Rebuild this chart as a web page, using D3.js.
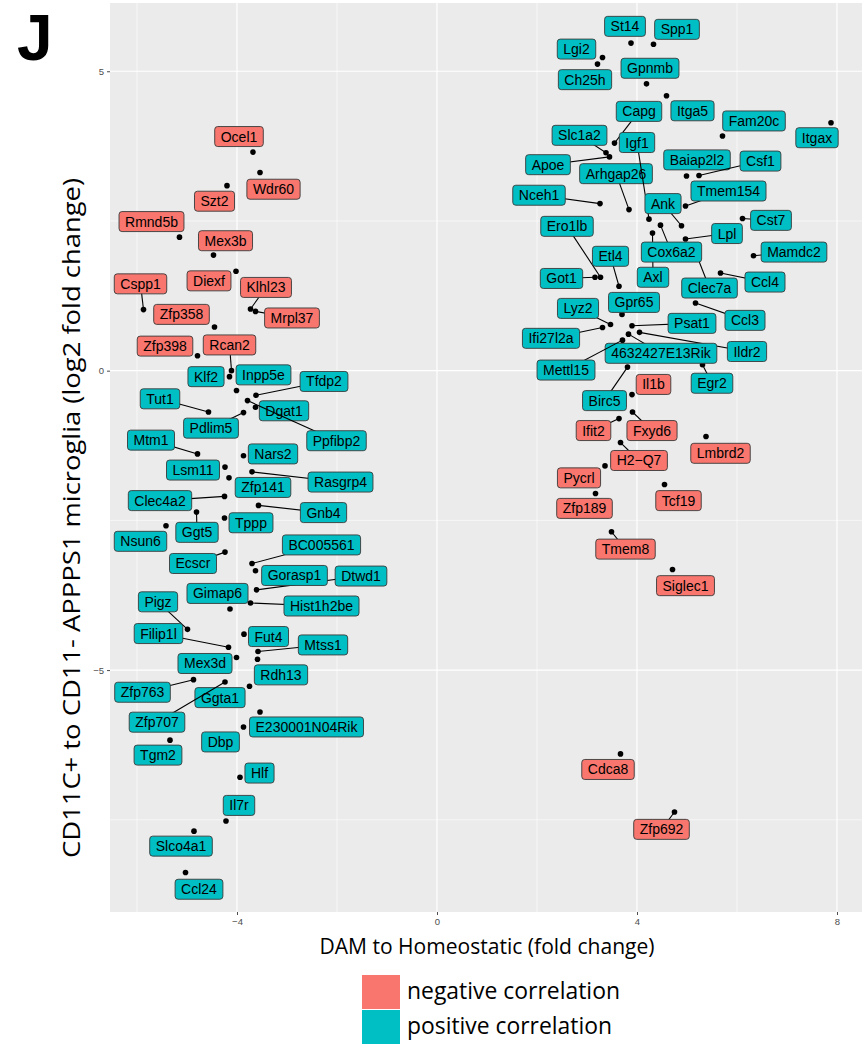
<!DOCTYPE html>
<html>
<head>
<meta charset="utf-8">
<script src="https://cdn.jsdelivr.net/npm/d3@7"></script>
<style>
  html, body { margin: 0; padding: 0; background: #ffffff; }
  svg { display: block; }
</style>
</head>
<body>
<svg id="chart" width="866" height="1047"></svg>
<script>
// Genes shown in the scatter, in drawing order
const genes = [
  "Ocel1","Wdr60","Szt2","Rmnd5b","Mex3b","Diexf","Klhl23","Mrpl37","Cspp1","Zfp358","Zfp398","Rcan2",
  "Klf2","Inpp5e","Tfdp2","Dgat1","Ppfibp2","Tut1","Pdlim5","Mtm1","Nars2","Lsm11","Zfp141","Rasgrp4",
  "Clec4a2","Ggt5","Gnb4","Tppp","Nsun6","Ecscr","BC005561","Dtwd1","Gorasp1","Gimap6","Hist1h2be","Pigz",
  "Filip1l","Fut4","Mtss1","Rdh13","Mex3d","Ggta1","Zfp763","Zfp707","Tgm2","E230001N04Rik","Dbp","Hlf",
  "Il7r","Slco4a1","Ccl24",
  "St14","Spp1","Lgi2","Ch25h","Gpnmb","Itga5","Capg","Fam20c","Itgax","Slc1a2","Apoe","Arhgap26","Igf1",
  "Baiap2l2","Csf1","Nceh1","Tmem154","Ank","Cst7","Ero1lb","Got1","Etl4","Axl","Clec7a","Cox6a2","Lpl",
  "Mamdc2","Ccl4","Gpr65","Lyz2","Ifi27l2a","Psat1","Ccl3","Ildr2","4632427E13Rik","Mettl15","Egr2","Birc5",
  "Il1b","Fxyd6","Ifit2","H2\u2212Q7","Lmbrd2","Pycrl","Zfp189","Tcf19","Tmem8","Siglec1","Cdca8","Zfp692"
];

// DAM vs homeostatic microglia (fold change)
const damFoldChange = [
  -3.68,-3.54,-4.20,-5.15,-4.47,-4.02,-3.73,-3.63,-5.87,-4.45,-4.79,-4.11,
  -4.15,-4.01,-3.62,-3.63,-3.79,-4.57,-3.87,-4.79,-3.87,-4.24,-4.16,-3.70,
  -4.25,-4.81,-3.57,-4.25,-5.42,-4.24,-3.70,-3.61,-3.63,-4.14,-3.73,-4.99,
  -4.17,-3.86,-3.58,-3.59,-4.01,-3.75,-4.87,-4.24,-5.34,-3.54,-3.87,-3.94,
  -4.22,-4.86,-5.03,
  3.88,4.33,3.31,3.21,4.19,4.59,3.55,5.71,7.88,3.38,3.45,3.84,4.24,
  4.99,5.24,3.26,4.97,4.89,6.11,3.27,3.16,3.64,4.31,5.15,4.47,4.97,
  6.33,5.67,3.70,3.47,3.31,3.90,5.17,4.05,3.83,3.71,5.31,3.81,
  3.90,3.91,3.64,3.67,5.38,3.36,3.17,4.55,3.49,4.71,3.67,4.75
];

// CD11c+ vs CD11c- APPPS1 microglia (log2 fold change)
const cd11cLog2FC = [
  3.65,3.31,3.09,2.23,1.93,1.66,1.03,0.99,1.02,0.73,0.25,0.00,
  -0.10,-0.33,-0.41,-0.61,-0.50,-0.69,-0.70,-1.39,-1.42,-1.61,-1.79,-1.69,
  -2.10,-2.36,-2.25,-2.46,-2.59,-3.03,-3.22,-3.66,-3.34,-3.98,-3.88,-4.32,
  -4.62,-4.40,-4.69,-4.82,-4.79,-5.27,-5.16,-5.20,-6.17,-5.70,-5.95,-6.79,
  -7.52,-7.69,-8.38,
  5.47,5.45,5.23,5.12,4.79,4.59,3.80,3.92,4.14,3.64,3.57,2.69,2.53,
  3.25,3.26,2.79,2.75,2.42,2.54,1.56,1.56,1.41,2.30,2.02,2.43,2.20,
  1.92,1.63,0.94,0.77,0.72,0.75,1.13,0.64,0.61,0.51,0.10,0.06,
  -0.40,-0.69,-0.80,-1.20,-1.10,-1.59,-2.05,-1.90,-2.69,-3.32,-6.40,-7.37
];

// Sign of the correlation for each gene
const correlation = [
  "neg","neg","neg","neg","neg","neg","neg","neg","neg","neg","neg","neg",
  "pos","pos","pos","pos","pos","pos","pos","pos","pos","pos","pos","pos",
  "pos","pos","pos","pos","pos","pos","pos","pos","pos","pos","pos","pos",
  "pos","pos","pos","pos","pos","pos","pos","pos","pos","pos","pos","pos",
  "pos","pos","pos",
  "pos","pos","pos","pos","pos","pos","pos","pos","pos","pos","pos","pos","pos",
  "pos","pos","pos","pos","pos","pos","pos","pos","pos","pos","pos","pos","pos",
  "pos","pos","pos","pos","pos","pos","pos","pos","pos","pos","pos","pos",
  "neg","neg","neg","neg","neg","neg","neg","neg","neg","neg","neg","neg"
];

// Repelled label anchors (data units)
const labelAnchorX = [
  -3.96,-3.27,-4.45,-5.71,-4.23,-4.56,-3.42,-2.90,-5.93,-5.11,-5.44,-4.15,
  -4.62,-3.47,-2.26,-3.06,-2.01,-5.54,-4.52,-5.72,-3.28,-4.88,-3.48,-1.93,
  -5.54,-4.80,-2.27,-3.72,-5.93,-4.88,-2.31,-1.52,-2.85,-4.39,-2.31,-5.58,
  -5.57,-3.37,-2.28,-3.12,-4.64,-4.34,-5.89,-5.60,-5.58,-2.61,-4.33,-3.55,
  -3.96,-5.12,-4.76,
  3.76,4.80,2.79,2.96,4.26,5.11,4.04,6.34,7.60,2.85,2.22,3.58,4.00,
  5.20,6.47,2.04,5.83,4.52,6.68,2.60,2.49,3.47,4.32,5.45,4.69,5.80,
  7.14,6.56,3.94,2.82,2.28,5.10,6.16,6.20,4.48,2.58,5.50,3.35,
  4.33,4.30,3.13,4.04,5.67,2.84,2.95,4.83,3.77,4.97,3.42,4.49
];
const labelAnchorY = [
  3.91,3.03,2.83,2.49,2.17,1.50,1.39,0.88,1.45,0.94,0.41,0.43,
  -0.10,-0.07,-0.18,-0.67,-1.17,-0.47,-0.96,-1.16,-1.39,-1.66,-1.95,-1.86,
  -2.17,-2.70,-2.37,-2.54,-2.85,-3.22,-2.91,-3.43,-3.42,-3.72,-3.93,-3.86,
  -4.39,-4.44,-4.58,-5.08,-4.89,-5.46,-5.37,-5.87,-6.42,-5.95,-6.20,-6.72,
  -7.26,-7.94,-8.66,
  5.75,5.70,5.37,4.86,5.05,4.34,4.33,4.17,3.89,3.93,3.44,3.29,3.81,
  3.52,3.50,2.93,3.00,2.79,2.51,2.41,1.54,1.91,1.56,1.38,1.98,2.29,
  1.98,1.48,1.14,1.04,0.54,0.79,0.84,0.32,0.29,0.01,-0.21,-0.50,
  -0.23,-1.00,-1.00,-1.50,-1.38,-1.79,-2.30,-2.17,-2.98,-3.59,-6.66,-7.66
];

const xTicks = [-4, 0, 4, 8];
const yTicks = [-5, 0, 5];
const xMinor = [-6, -2, 2, 6];
const yMinor = [-7.5, -2.5, 2.5];
const legendKeys = ["negative correlation", "positive correlation"];

const fill = { neg: "#F8766D", pos: "#00BFC4" };
const tickFmt = v => (v < 0 ? "\u2212" + Math.abs(v) : String(v));

const svg = d3.select("#chart");
const panel = { left: 110, right: 862, top: 3, bottom: 912 };

const x = d3.scaleLinear().domain([-6.54, 8.5]).range([panel.left, panel.right]);
const y = d3.scaleLinear().domain([-9.04, 6.14]).range([panel.bottom, panel.top]);

// panel background
svg.append("rect")
  .attr("x", panel.left).attr("y", panel.top)
  .attr("width", panel.right - panel.left).attr("height", panel.bottom - panel.top)
  .attr("fill", "#EBEBEB");

const grid = svg.append("g");
grid.selectAll(".vminor").data(xMinor).join("line")
  .attr("x1", d => x(d)).attr("x2", d => x(d))
  .attr("y1", panel.top).attr("y2", panel.bottom)
  .attr("stroke", "#fff").attr("stroke-width", 0.6);
grid.selectAll(".hminor").data(yMinor).join("line")
  .attr("y1", d => y(d)).attr("y2", d => y(d))
  .attr("x1", panel.left).attr("x2", panel.right)
  .attr("stroke", "#fff").attr("stroke-width", 0.6);
grid.selectAll(".vmajor").data(xTicks).join("line")
  .attr("x1", d => x(d)).attr("x2", d => x(d))
  .attr("y1", panel.top).attr("y2", panel.bottom)
  .attr("stroke", "#fff").attr("stroke-width", 1.2);
grid.selectAll(".hmajor").data(yTicks).join("line")
  .attr("y1", d => y(d)).attr("y2", d => y(d))
  .attr("x1", panel.left).attr("x2", panel.right)
  .attr("stroke", "#fff").attr("stroke-width", 1.2);

// axes
const xAxis = d3.axisBottom(x).tickValues(xTicks).tickFormat(tickFmt).tickSize(3).tickPadding(3);
const yAxis = d3.axisLeft(y).tickValues(yTicks).tickFormat(tickFmt).tickSize(3).tickPadding(3);
const gx = svg.append("g").attr("transform", `translate(0,${panel.bottom})`).call(xAxis);
const gy = svg.append("g").attr("transform", `translate(${panel.left},0)`).call(yAxis);
[gx, gy].forEach(g => {
  g.select(".domain").remove();
  g.selectAll(".tick line").attr("stroke", "#4D4D4D").attr("stroke-width", 1);
  g.selectAll(".tick text").attr("fill", "#4D4D4D")
    .style("font-family", "'Liberation Sans', Arial, sans-serif").style("font-size", "9.5px");
});

// points
const rows = genes.map((g, i) => ({
  gene: g, dx: damFoldChange[i], dy: cd11cLog2FC[i], corr: correlation[i],
  lx: labelAnchorX[i], ly: labelAnchorY[i]
}));

svg.append("g").selectAll("circle").data(rows).join("circle")
  .attr("cx", d => x(d.dx)).attr("cy", d => y(d.dy))
  .attr("r", 2.8).attr("fill", "#000");

// labels with leader segments
const labelLayer = svg.append("g");
const padX = 6, boxH = 20;
rows.forEach(d => {
  const g = labelLayer.append("g");
  const cx = x(d.lx), cy = y(d.ly);
  const px = x(d.dx), py = y(d.dy);
  const seg = g.append("line").attr("stroke", "#000").attr("stroke-width", 1.1);
  const rect = g.append("rect");
  const txt = g.append("text")
    .attr("x", cx).attr("y", cy + 5)
    .attr("text-anchor", "middle")
    .style("font-family", "'Liberation Sans', Arial, sans-serif")
    .style("font-size", "14px")
    .attr("fill", "#000")
    .text(d.gene);
  const w = txt.node().getComputedTextLength() + 2 * padX;
  const x0 = cx - w / 2, y0 = cy - boxH / 2;
  rect.attr("x", x0).attr("y", y0).attr("width", w).attr("height", boxH)
    .attr("rx", 3).attr("ry", 3)
    .attr("fill", fill[d.corr]).attr("stroke", "#3a3a3a").attr("stroke-width", 0.9);
  // nearest point on the box to the data point
  const nx = Math.max(x0, Math.min(px, x0 + w));
  const ny = Math.max(y0, Math.min(py, y0 + boxH));
  const gap = Math.hypot(px - nx, py - ny);
  if (gap > 7) {
    seg.attr("x1", cx).attr("y1", cy).attr("x2", px).attr("y2", py);
  } else {
    seg.remove();
  }
});

// axis titles
const titleFont = "'Open Sans', 'Noto Sans', sans-serif";
svg.append("text")
  .attr("x", 487).attr("y", 954)
  .attr("text-anchor", "middle")
  .style("font-family", titleFont).style("font-size", "22px")
  .attr("textLength", 335).attr("lengthAdjust", "spacingAndGlyphs")
  .text("DAM to Homeostatic (fold change)");

svg.append("text")
  .attr("transform", "translate(80,518) rotate(-90)")
  .attr("text-anchor", "middle")
  .style("font-family", titleFont).style("font-size", "24px")
  .attr("textLength", 680).attr("lengthAdjust", "spacingAndGlyphs")
  .text("CD11C+ to CD11- APPPS1 microglia  (log2 fold change)");

// legend
const legend = svg.append("g");
legend.selectAll("rect").data(legendKeys).join("rect")
  .attr("x", 362).attr("y", (d, i) => 975 + i * 35)
  .attr("width", 38).attr("height", 34)
  .attr("fill", (d, i) => i === 0 ? fill.neg : fill.pos);
legend.selectAll("text").data(legendKeys).join("text")
  .attr("x", 407).attr("y", (d, i) => 999 + i * 35)
  .style("font-family", titleFont).style("font-size", "23px")
  .attr("textLength", (d, i) => i === 0 ? 213 : 205)
  .attr("lengthAdjust", "spacingAndGlyphs")
  .text(d => d);

// panel letter
svg.append("text")
  .attr("x", 17).attr("y", 60)
  .style("font-family", "'Liberation Sans', Arial, sans-serif").style("font-weight", 700)
  .style("font-size", "64px")
  .text("J");
</script>
</body>
</html>
